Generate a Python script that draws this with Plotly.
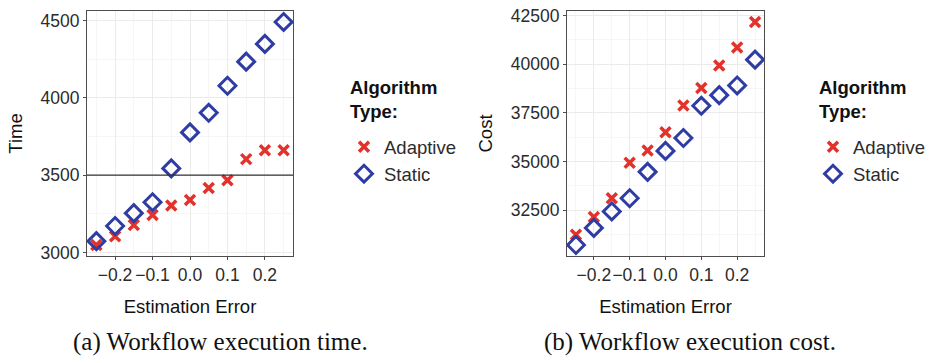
import plotly.graph_objects as go

# ---- data ----
est_error = [-0.25, -0.2, -0.15, -0.1, -0.05, 0.0, 0.05, 0.1, 0.15, 0.2, 0.25]
time_adaptive = [3048, 3104, 3177, 3242, 3304, 3340, 3417, 3467, 3604, 3662, 3662]
time_static = [3073, 3171, 3254, 3325, 3544, 3777, 3904, 4079, 4235, 4350, 4492]
cost_adaptive = [31242, 32152, 33113, 34934, 35563, 36507, 37881, 38775, 39934, 40861, 42169]
cost_static = [30712, 31589, 32434, 33113, 34470, 35546, 36209, 37864, 38411, 38907, 40232]
time_ref_line = 3500
x_ticks = [-0.2, -0.1, 0.0, 0.1, 0.2]
time_ticks = [3000, 3500, 4000, 4500]
cost_ticks = [32500, 35000, 37500, 40000, 42500]
captions = ["(a) Workflow execution time.", "(b) Workflow execution cost."]
legend_title = "Algorithm<br>Type:"

W, H = 934, 363
RED = "#E3312B"
BLUE = "#2E3CA3"
SANS = "Liberation Sans, Arial, sans-serif"
SERIF = "Liberation Serif, Times New Roman, serif"

def px(x):
    return x / W

def py(y):
    return 1 - y / H

fig = go.Figure()

def add_pair(xa, ya, adaptive, static, legend):
    fig.add_trace(go.Scatter(
        x=est_error, y=adaptive, mode="markers", name="Adaptive",
        xaxis=xa, yaxis=ya, legend=legend,
        marker=dict(symbol="x-thin-open", size=10, color=RED,
                    line=dict(color=RED, width=3.5)),
    ))
    fig.add_trace(go.Scatter(
        x=est_error, y=static, mode="markers", name="Static",
        xaxis=xa, yaxis=ya, legend=legend,
        marker=dict(symbol="diamond-open", size=13, color=BLUE,
                    line=dict(color=BLUE, width=3)),
    ))

add_pair("x", "y", time_adaptive, time_static, "legend")
add_pair("x2", "y2", cost_adaptive, cost_static, "legend2")

def yrange(a, b):
    lo = min(min(a), min(b))
    hi = max(max(a), max(b))
    r = hi - lo
    return [lo - 0.05 * r, hi + 0.05 * r]

xr = [min(est_error) - 0.05 * (max(est_error) - min(est_error)),
      max(est_error) + 0.05 * (max(est_error) - min(est_error))]

axis_common = dict(
    showline=True, mirror=True, linecolor="#4d4d4d", linewidth=1,
    ticks="outside", ticklen=3, tickcolor="#4d4d4d", tickwidth=1,
    showgrid=True, gridcolor="#EBEBEB", gridwidth=1.2,
    zeroline=False, tickangle=0,
    tickfont=dict(family=SANS, size=17.5, color="#2b2b2b"),
    title_font=dict(family=SANS, size=18.5, color="#111111"),
)

legend_common = dict(
    xanchor="left", yanchor="top",
    font=dict(family=SANS, size=18.5, color="#2b2b2b"),
    bgcolor="rgba(0,0,0,0)", tracegroupgap=0, itemwidth=30,
)

fig.update_layout(
    width=W, height=H,
    margin=dict(l=0, r=0, t=0, b=0),
    paper_bgcolor="white", plot_bgcolor="white",
    font=dict(family=SANS, color="#111111"),
    xaxis=dict(domain=[px(87), px(293)], anchor="y", range=xr,
               tickvals=x_ticks, tickformat=".1f",
               minor=dict(showgrid=True, gridcolor="#F6F6F6", dtick=0.05, tick0=0.05, ticks=""),
               title=dict(text="Estimation Error", standoff=15), **axis_common),
    yaxis=dict(domain=[py(259), py(6)], anchor="x", range=yrange(time_adaptive, time_static),
               tickvals=time_ticks, tickformat="d",
               minor=dict(showgrid=True, gridcolor="#F6F6F6", dtick=250, tick0=3250, ticks=""),
               title=dict(text="Time", standoff=13), **axis_common),
    xaxis2=dict(domain=[px(567), px(764)], anchor="y2", range=xr,
                tickvals=x_ticks, tickformat=".1f",
                minor=dict(showgrid=True, gridcolor="#F6F6F6", dtick=0.05, tick0=0.05, ticks=""),
                title=dict(text="Estimation Error", standoff=15), **axis_common),
    yaxis2=dict(domain=[py(259), py(6)], anchor="x2", range=yrange(cost_adaptive, cost_static),
                tickvals=cost_ticks, tickformat="d",
                minor=dict(showgrid=True, gridcolor="#F6F6F6", dtick=1250, tick0=31250, ticks=""),
                title=dict(text="Cost", standoff=13), **axis_common),
    legend=dict(x=px(344), y=py(127), **legend_common),
    legend2=dict(x=px(813), y=py(127), **legend_common),
    showlegend=True,
)

fig.add_shape(type="line", xref="x domain", yref="y", x0=0, x1=1,
              y0=time_ref_line, y1=time_ref_line,
              line=dict(color="#333333", width=1.2))

# legend titles
for lx in [348, 817]:
    fig.add_annotation(x=px(lx), y=py(72), xref="paper", yref="paper",
                       text="<b>" + legend_title + "</b>", showarrow=False,
                       xanchor="left", yanchor="top", align="left",
                       font=dict(family=SANS, size=18.5, color="#111111"))

for cx, text in zip([220, 690], captions):
    fig.add_annotation(x=px(cx), y=py(348), xref="paper", yref="paper",
                       text=text, showarrow=False, xanchor="center", yanchor="middle",
                       font=dict(family=SERIF, size=25, color="#111111"))

fig.write_html("out.html")
